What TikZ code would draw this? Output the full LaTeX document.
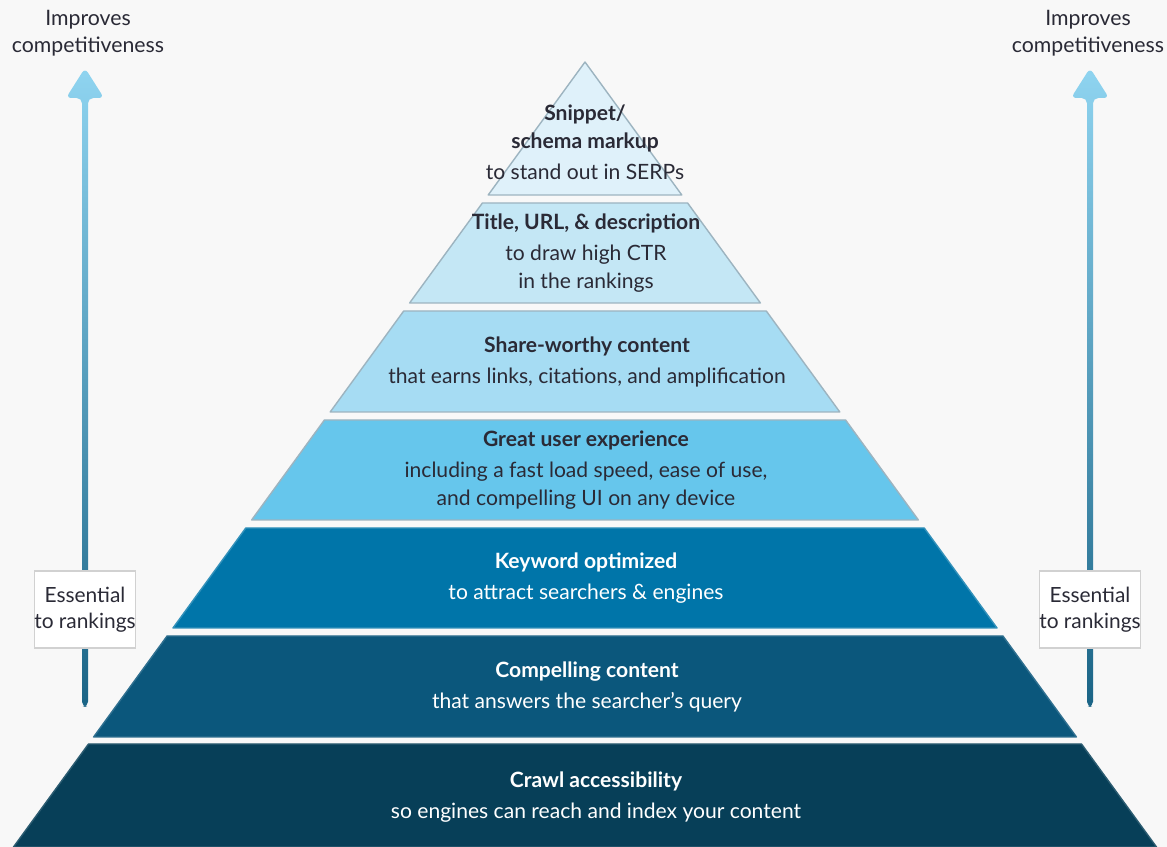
\documentclass[tikz,border=0pt]{standalone}
\usepackage{fontspec}
\setmainfont{Lato}
\usetikzlibrary{positioning, calc}

\definecolor{bgcol}{HTML}{F8F8F8}
\definecolor{txtdark}{HTML}{2A2A36}
\definecolor{edgecol}{HTML}{9DB4C0}
\definecolor{layA}{HTML}{DFF1FA}
\definecolor{layB}{HTML}{C4E7F5}
\definecolor{layC}{HTML}{A6DCF3}
\definecolor{layD}{HTML}{66C6EC}
\definecolor{layE}{HTML}{0075A9}
\definecolor{layF}{HTML}{0B577C}
\definecolor{layG}{HTML}{073F58}
\definecolor{arrtop}{HTML}{8FD4F0}
\definecolor{arrbot}{HTML}{1A6486}

\begin{document}
\begin{tikzpicture}[
        x=0.02cm, y=-0.02cm,
        layer/.style={line width=0.8pt, line join=round},
        caption/.style={align=center, font=\fontsize{12}{15.9}\selectfont, text=txtdark},
        capwhite/.style={caption, text=white},
        sidebox/.style={draw=black!18, fill=white, line width=0.6pt, minimum width=100*0.02cm, minimum height=77*0.02cm, inner sep=0pt, align=center, font=\fontsize{11.9}{15}\selectfont, text=txtdark},
        toplabel/.style={align=center, font=\fontsize{12.1}{15.4}\selectfont, text=txtdark},
        bigarrow/.style={top color=arrtop, bottom color=arrbot, rounded corners=3}
    ]

    % Canvas
    \fill[bgcol] (0,0) rectangle (1167,847);
    \useasboundingbox (0,0) rectangle (1167,847);

    % Pyramid layers, top to bottom
    \filldraw[layer, fill=layA, draw=edgecol] (585,62) -- (681.8,195) -- (488.2,195) -- cycle;
    \filldraw[layer, fill=layB, draw=edgecol] (482.4,203) -- (687.6,203) -- (760.4,303) -- (409.6,303) -- cycle;
    \filldraw[layer, fill=layC, draw=edgecol] (403.7,311) -- (766.3,311) -- (839.8,412) -- (330.2,412) -- cycle;
    \filldraw[layer, fill=layD, draw=edgecol] (324.4,420) -- (845.6,420) -- (918.4,520) -- (251.6,520) -- cycle;
    \filldraw[layer, fill=layE, draw=layE!80!white] (245.8,528) -- (924.2,528) -- (997.0,628) -- (173.0,628) -- cycle;
    \filldraw[layer, fill=layF, draw=layF!85!white] (167.1,636) -- (1002.9,636) -- (1076.4,737) -- (93.6,737) -- cycle;
    \filldraw[layer, fill=layG, draw=layG!85!white] (88.5,744) -- (1081.5,744) -- (1156.5,847) -- (13.5,847) -- cycle;

    % Layer texts
    \node[caption] (snippet) at (585,142) {\textbf{Snippet/}\\\textbf{schema markup}\\[1.6pt]to stand out in SERPs};
    \node[caption] (title) at (586,253) {\textbf{Title, URL, \& description}\\[1.6pt]to draw high CTR\\in the rankings};
    \node[caption] (share) at (587,362) {\textbf{Share-worthy content}\\[1.6pt]that earns links, citations, and amplification};
    \node[caption] (ux) at (586,470) {\textbf{Great user experience}\\[1.6pt]including a fast load speed, ease of use,\\and compelling UI on any device};
    \node[capwhite] (keyword) at (586,578) {\textbf{Keyword optimized}\\[1.6pt]to attract searchers \& engines};
    \node[capwhite] (content) at (587,687) {\textbf{Compelling content}\\[1.6pt]that answers the searcher’s query};
    \node[capwhite] (crawl) at (596,797) {\textbf{Crawl accessibility}\\[1.6pt]so engines can reach and index your content};

    % Side arrows
    \coordinate (lbot) at (85,707);
    \coordinate (ltop) at (85,98);
    \coordinate (ltip) at (85,68);
    \coordinate (rbot) at (1090,707);
    \coordinate (rtop) at (1090,98);
    \coordinate (rtip) at (1090,68);
    \shade[bigarrow] ($(lbot)+(-3,0)$) -- ($(ltop)+(-3,0)$) -- ($(ltop)+(-19,0)$) -- (ltip) -- ($(ltop)+(19,0)$) -- ($(ltop)+(3,0)$) -- ($(lbot)+(3,0)$) -- cycle;
    \shade[bigarrow] ($(rbot)+(-3,0)$) -- ($(rtop)+(-3,0)$) -- ($(rtop)+(-19,0)$) -- (rtip) -- ($(rtop)+(19,0)$) -- ($(rtop)+(3,0)$) -- ($(rbot)+(3,0)$) -- cycle;

    % Arrow labels
    \node[toplabel] (limprove) at (88,33) {Improves\\competitiveness};
    \node[toplabel] (rimprove) at (1088,33) {Improves\\competitiveness};
    \node[sidebox] (lessential) at (85,609.5) {Essential\\to rankings};
    \node[sidebox] (ressential) at (1090,609.5) {Essential\\to rankings};

\end{tikzpicture}
\end{document}
